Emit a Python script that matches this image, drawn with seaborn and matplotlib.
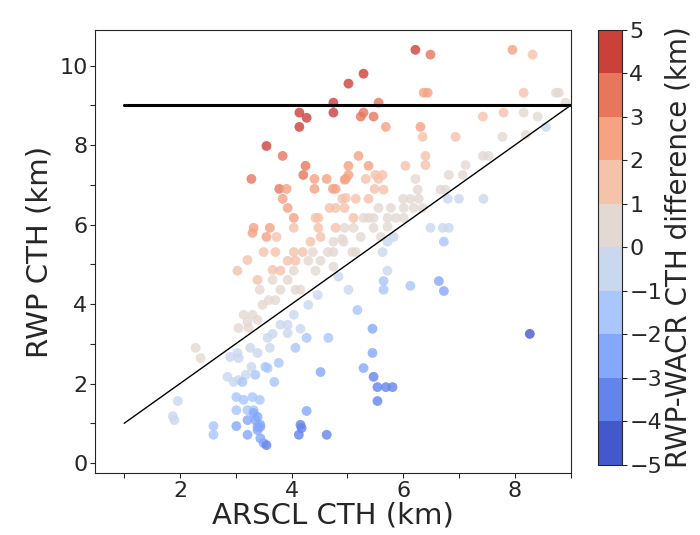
import matplotlib
matplotlib.use("Agg")
import matplotlib.pyplot as plt
import matplotlib.colors as mcolors
import numpy as np
import pandas as pd
import seaborn as sns

# ARSCL cloud top height (x) and RWP cloud top height (y), km
arscl = [
    6.22, 6.49, 7.96, 8.32, 5.29, 5.02, 6.37, 6.44, 8.16, 8.74, 8.79, 8.91, 4.75, 5.56,
    4.14, 4.27, 4.14, 4.75, 5.29, 5.24, 5.47, 5.69, 6.31, 6.35, 6.94, 7.43, 7.80, 8.16, 8.41, 8.56, 7.78, 8.20,
    3.55, 3.84, 4.25, 4.21, 3.28, 4.41, 4.63, 5.20, 5.02, 5.38, 6.04, 6.40, 6.40, 7.43, 7.53, 7.12,
    4.97, 5.02, 5.33, 5.50, 5.63, 5.56, 6.22, 6.82, 7.07, 4.95,
    3.78, 3.91, 4.41, 4.74, 4.79, 5.49, 5.65, 6.26, 6.67, 6.76,
    3.84, 4.91, 5.15, 5.38, 6.00, 6.13, 6.28, 6.80, 7.00, 7.44, 4.97,
    3.93, 4.68, 4.79, 4.95, 5.56, 5.78, 6.01, 6.19, 6.35,
    4.04, 4.43, 4.48, 5.11, 5.29, 5.38, 5.47, 5.72, 5.87, 6.01,
    3.32, 3.61, 4.04, 4.48, 4.79, 4.95, 5.11, 5.47, 5.72, 6.49, 6.71, 6.82,
    3.30, 3.55, 3.73, 4.34, 4.52, 4.91, 5.24, 5.60, 5.83, 5.72, 6.73, 4.75, 4.93,
    3.50, 3.71, 4.04, 4.20, 4.38, 4.65, 4.75, 5.63, 5.09, 5.15,
    3.21, 3.93, 4.07, 4.30, 4.52,
    3.03, 3.66, 3.80, 4.04, 4.43, 4.75, 5.72, 4.84,
    3.39, 3.66, 3.93, 5.65, 6.13, 6.64, 6.73, 5.65,
    3.43, 3.80, 4.07, 4.16, 5.02, 4.47,
    3.59, 3.71, 3.48, 4.30, 5.18,
    3.14, 3.30, 4.04, 3.21, 3.39, 3.80, 3.93, 3.05, 3.23, 3.93, 4.16, 5.45,
    3.57, 3.66, 4.27, 4.66,
    3.26, 3.61, 4.07, 2.28, 2.37, 3.03, 3.05, 3.39, 5.45, 2.90,
    3.28, 3.53, 3.57, 3.77, 4.52, 5.29,
    2.85, 3.05, 3.18, 3.35, 3.69, 5.47, 5.54, 5.69, 5.81, 5.54, 8.27, 2.96, 3.12,
    1.96, 1.87, 1.90, 2.60, 2.60, 3.01, 3.21, 3.50, 3.55, 3.44, 3.39, 3.44,
    3.01, 3.21, 3.32, 3.01, 3.14, 3.30, 3.43, 3.21, 3.39, 4.27, 4.16, 4.18, 4.13, 4.63,
    3.32, 3.35, 3.44, 3.39,
]
rwp = [
    10.40, 10.28, 10.40, 10.28, 9.80, 9.55, 9.32, 9.32, 9.32, 9.32, 9.32, 9.07, 9.07, 9.07,
    8.82, 8.69, 8.46, 8.82, 8.82, 8.72, 8.72, 8.46, 8.46, 8.21, 8.21, 8.72, 8.82, 8.82, 8.72, 8.46, 8.21, 8.26,
    7.98, 7.73, 7.48, 7.25, 7.15, 7.15, 7.15, 7.73, 7.48, 7.48, 7.48, 7.73, 7.50, 7.73, 7.73, 7.50,
    7.15, 7.25, 7.15, 7.25, 7.25, 7.15, 7.15, 7.25, 7.25, 7.13,
    6.90, 6.90, 6.90, 6.90, 6.90, 6.90, 6.88, 6.88, 6.88, 6.88,
    6.65, 6.65, 6.65, 6.65, 6.65, 6.65, 6.65, 6.65, 6.65, 6.65, 6.67,
    6.42, 6.42, 6.42, 6.42, 6.42, 6.42, 6.42, 6.42, 6.42,
    6.17, 6.17, 6.17, 6.17, 6.17, 6.17, 6.17, 6.17, 6.17, 6.17,
    5.92, 5.92, 5.92, 5.92, 5.92, 5.92, 5.92, 5.92, 5.95, 5.92, 5.92, 5.92,
    5.79, 5.69, 5.69, 5.57, 5.69, 5.64, 5.69, 5.69, 5.69, 5.57, 5.57, 5.57, 5.57,
    5.31, 5.31, 5.31, 5.31, 5.31, 5.31, 5.31, 5.31, 5.31, 5.31,
    5.11, 5.09, 5.09, 5.09, 5.09,
    4.84, 4.86, 4.84, 4.84, 4.84, 4.94, 4.84, 4.69,
    4.61, 4.61, 4.61, 4.58, 4.46, 4.58, 4.33, 4.36,
    4.36, 4.36, 4.36, 4.36, 4.36, 4.23,
    4.10, 4.10, 3.98, 3.98, 3.85,
    3.73, 3.73, 3.73, 3.55, 3.60, 3.48, 3.48, 3.40, 3.40, 3.27, 3.38, 3.38,
    3.15, 3.25, 3.15, 3.15,
    2.90, 2.90, 2.90, 2.90, 2.64, 2.77, 2.64, 2.77, 2.77, 2.67,
    2.42, 2.42, 2.39, 2.52, 2.29, 2.39,
    2.17, 2.09, 2.22, 2.22, 2.04, 2.17, 1.91, 1.91, 1.91, 1.56, 3.25, 2.04, 2.04,
    1.56, 1.18, 1.08, 0.93, 0.71, 0.93, 0.71, 0.50, 0.45, 0.62, 0.91, 0.91,
    1.33, 1.33, 1.33, 1.66, 1.59, 1.66, 1.59, 1.08, 1.16, 1.31, 0.96, 0.88, 0.71, 0.71,
    1.26, 1.08, 0.96, 0.83,
]

df = pd.DataFrame({"arscl": arscl, "rwp": rwp})
df["diff"] = df["rwp"] - df["arscl"]

# discrete 1 km colour bins from -5 to 5
bounds = np.arange(-5, 6, 1)
cmap = mcolors.ListedColormap(plt.get_cmap("coolwarm")(np.linspace(0.03, 0.93, len(bounds) - 1)))
norm = mcolors.BoundaryNorm(bounds, cmap.N)

sns.set_style("ticks")
plt.rcParams["font.family"] = ["DejaVu Sans"]

fig = plt.figure(figsize=(7, 5.35), dpi=100)
ax = fig.add_axes([0.136, 0.116, 0.679, 0.828])
cax = fig.add_axes([0.854, 0.131, 0.034, 0.813])

sns.scatterplot(data=df, x="arscl", y="rwp", hue="diff", palette=cmap, hue_norm=norm,
                s=50, alpha=0.8, edgecolor="none", legend=False, ax=ax)

ax.plot([1, 9], [1, 9], color="black", lw=1)
ax.plot([1, 9], [9, 9], color="black", lw=2.2)

ax.set_xlim(0.48, 9.0)
ax.set_ylim(-0.25, 10.9)
ax.set_xticks(np.arange(1, 10, 1))
ax.set_xticklabels(["" if v % 2 else str(v) for v in range(1, 10)])
ax.set_yticks(np.arange(0, 11, 1))
ax.set_yticklabels([str(v) if v % 2 == 0 else "" for v in range(0, 11)])
ax.tick_params(labelsize=16, pad=2)
ax.set_xlabel("ARSCL CTH (km)", fontsize=21, labelpad=1)
ax.set_ylabel("RWP CTH (km)", fontsize=21, labelpad=4)

sm = plt.cm.ScalarMappable(cmap=cmap, norm=norm)
cb = fig.colorbar(sm, cax=cax, ticks=bounds)
cb.ax.tick_params(labelsize=16, pad=2)
cb.set_label("RWP-WACR CTH difference (km)", fontsize=20, labelpad=2)

fig.savefig("out.png", dpi=100)
